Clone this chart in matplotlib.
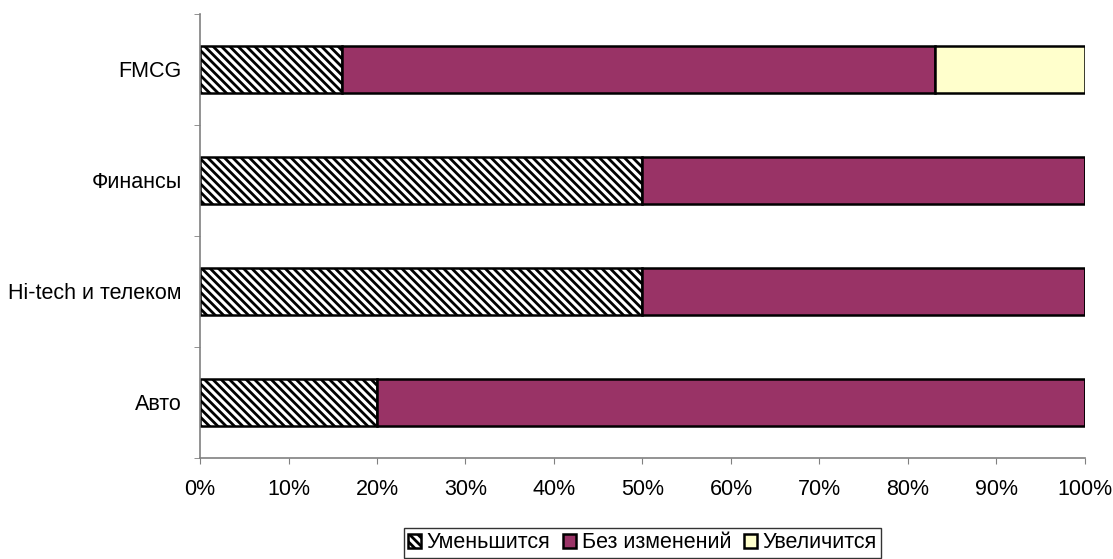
import matplotlib.pyplot as plt
from matplotlib.ticker import PercentFormatter, FixedLocator

plt.rcParams['font.family'] = ['Liberation Sans', 'DejaVu Sans']
plt.rcParams['hatch.linewidth'] = 2.0
plt.rcParams['hatch.color'] = 'black'

categories = ['Авто', 'Hi-tech и телеком', 'Финансы', 'FMCG']
decrease = [20, 50, 50, 16]
no_change = [80, 50, 50, 67]
increase = [0, 0, 0, 17]

fs = 15.5
fig = plt.figure(figsize=(11.13, 5.59), dpi=100)
ax = fig.add_axes([0.1797, 0.1807, 0.7951, 0.7943])

y = range(len(categories))
h = 0.42
ax.barh(y, decrease, height=h, color='white', edgecolor='black',
        linewidth=1.8, hatch='\\\\\\\\', label='Уменьшится')
ax.barh(y, no_change, left=decrease, height=h, color='#993366',
        edgecolor='black', linewidth=1.8, label='Без изменений')
left2 = [a + b for a, b in zip(decrease, no_change)]
ax.barh(y, increase, left=left2, height=h, color='#FFFFCC',
        edgecolor='black', linewidth=1.8, label='Увеличится')

ax.set_xlim(0, 100)
ax.set_ylim(-0.5, len(categories) - 0.5)
ax.set_xticks(range(0, 101, 10))
ax.xaxis.set_major_formatter(PercentFormatter(decimals=0))
ax.set_yticks(list(y))
ax.set_yticklabels(categories)
ax.yaxis.set_minor_locator(FixedLocator([i - 0.5 for i in range(len(categories) + 1)]))
ax.tick_params(axis='y', which='major', length=0, pad=13, labelsize=fs)
ax.tick_params(axis='y', which='minor', length=4, color='#808080', direction='out')
ax.tick_params(axis='x', length=4, color='#808080', direction='out', labelsize=fs, pad=11)

for s in ['top', 'right']:
    ax.spines[s].set_visible(False)
for s in ['left', 'bottom']:
    ax.spines[s].set_color('#808080')
    ax.spines[s].set_linewidth(1.2)

leg = ax.legend(loc='upper center', bbox_to_anchor=(0.5, -0.158), ncol=3,
                fontsize=fs, frameon=True, fancybox=False, edgecolor='black',
                handlelength=0.6, handleheight=0.6, handletextpad=0.25,
                columnspacing=0.6, borderpad=0.2, borderaxespad=0)
leg.get_frame().set_linewidth(1.0)

fig.savefig('out.png', dpi=100)
